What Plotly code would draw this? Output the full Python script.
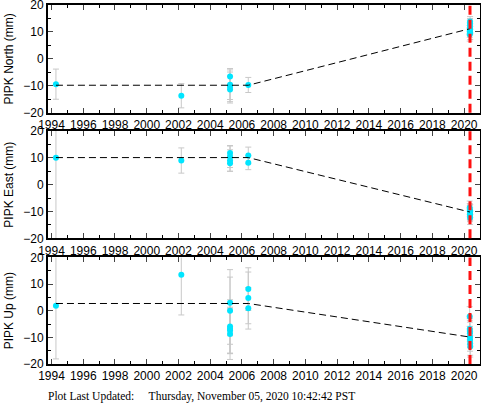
import plotly.graph_objects as go
from plotly.subplots import make_subplots

# site and event
site = "PIPK"
event_time = 2020.37
updated = "Plot Last Updated:" + "\u00a0" * 5 + "Thursday, November 05, 2020 10:42:42 PST"

# north component (mm)
north_t = [1994.28, 2002.18, 2005.25, 2005.25, 2005.25, 2005.25, 2006.40,
           2020.35, 2020.355, 2020.36, 2020.365, 2020.37, 2020.375, 2020.38, 2020.385]
north_v = [-9.4, -13.7, -6.6, -9.6, -10.4, -11.4, -9.7,
           9.0, 10.2, 11.5, 12.4, 13.2, 13.9, 11.0, 9.6]
north_e = [5.6, 4.5, 3.0, 5.5, 5.5, 5.0, 2.8,
           2.4, 2.2, 2.0, 2.0, 1.8, 1.8, 2.0, 2.4]

# east component (mm)
east_t = [1994.28, 2002.18, 2005.25, 2005.25, 2005.25, 2005.25, 2006.40, 2006.40,
          2020.35, 2020.355, 2020.36, 2020.365, 2020.37, 2020.375, 2020.38, 2020.385]
east_v = [10.0, 9.0, 11.8, 10.4, 9.0, 8.0, 10.9, 8.2,
          -8.6, -9.4, -10.1, -10.8, -11.5, -12.3, -11.0, -9.8]
east_e = [32.0, 4.7, 2.8, 4.0, 4.0, 3.0, 3.1, 2.6,
          2.5, 2.4, 2.3, 2.2, 2.3, 2.5, 2.4, 2.4]

# up component (mm)
up_t = [1994.28, 2002.18, 2005.25, 2005.25, 2005.25, 2005.25, 2005.25, 2005.25,
        2006.40, 2006.40, 2006.40,
        2020.35, 2020.355, 2020.36, 2020.365, 2020.37, 2020.375, 2020.38, 2020.385]
up_v = [1.9, 13.5, 3.0, 0.0, -5.9, -6.8, -7.4, -8.7,
        8.1, 4.8, 0.9,
        -2.2, -6.9, -7.6, -8.5, -9.9, -11.0, -12.3, -13.4]
up_e = [20.0, 15.1, 12.4, 12.6, 10.0, 9.3, 8.7, 9.6,
        8.0, 9.7, 7.8,
        3.7, 4.0, 4.0, 4.2, 4.0, 4.2, 4.4, 4.0]

# model fit
model_t = [1994.28, 2006.40, 2020.37]
north_model = [-9.8, -9.8, 11.2]
east_model = [10.1, 10.1, -10.2]
up_model = [2.7, 2.7, -9.9]

panels = [
    ("North", north_t, north_v, north_e, north_model),
    ("East", east_t, east_v, east_e, east_model),
    ("Up", up_t, up_v, up_e, up_model),
]

fig = make_subplots(rows=3, cols=1)

font = dict(family="Liberation Sans, Arial, sans-serif", size=12, color="black")
domains = [[0.700, 1.0], [0.350, 0.649], [0.0, 0.297]]

for i, (name, t, v, e, m) in enumerate(panels):
    row = i + 1
    fig.add_trace(go.Scatter(
        x=t, y=v, mode="markers",
        marker=dict(color="#00e5ff", size=6),
        error_y=dict(type="data", array=e, color="#c8c8c8", thickness=1, width=3),
        showlegend=False), row=row, col=1)
    fig.add_trace(go.Scatter(
        x=model_t, y=m, mode="lines",
        line=dict(color="black", width=1, dash="7px,4px"),
        showlegend=False), row=row, col=1)
    xa = "x" if row == 1 else "x%d" % row
    fig.add_shape(type="line", xref=xa, yref=("y" if row == 1 else "y%d" % row) + " domain",
                  x0=event_time, x1=event_time, y0=0, y1=1,
                  line=dict(color="#ff1010", width=3, dash="9px,5px"))
    fig.update_xaxes(range=[1993.78, 2021.0], dtick=2, tick0=1994,
                     ticks="inside", ticklen=5, tickwidth=1,
                     minor=dict(dtick=1, ticks="inside", ticklen=3, tickcolor="black"),
                     showline=True, linecolor="black", linewidth=2, mirror="ticks",
                     showgrid=False, zeroline=False, tickfont=font, automargin=False,
                     ticklabeloverflow="allow",
                     row=row, col=1)
    fig.update_yaxes(range=[-20, 20], dtick=10,
                     ticks="inside", ticklen=5, tickwidth=1,
                     minor=dict(dtick=5, ticks="inside", ticklen=3, tickcolor="black"),
                     showline=True, linecolor="black", linewidth=2, mirror="ticks",
                     showgrid=False, zeroline=False, tickfont=font, automargin=False,
                     ticklabeloverflow="allow",
                     title=dict(text="%s %s (mm)" % (site, name), font=font, standoff=7),
                     domain=domains[i], row=row, col=1)

fig.add_annotation(text=updated, xref="paper", yref="paper", x=-0.004, y=-0.091,
                   xanchor="left", yanchor="middle", showarrow=False,
                   font=dict(family="Liberation Serif, Times New Roman, serif", size=11.5, color="black"))

fig.update_layout(width=481, height=404, margin=dict(l=48, r=1, t=5, b=40),
                  plot_bgcolor="white", paper_bgcolor="white", font=font)

fig.write_html("out.html", config={"displayModeBar": False},
               post_script="document.body.style.margin='0';")
